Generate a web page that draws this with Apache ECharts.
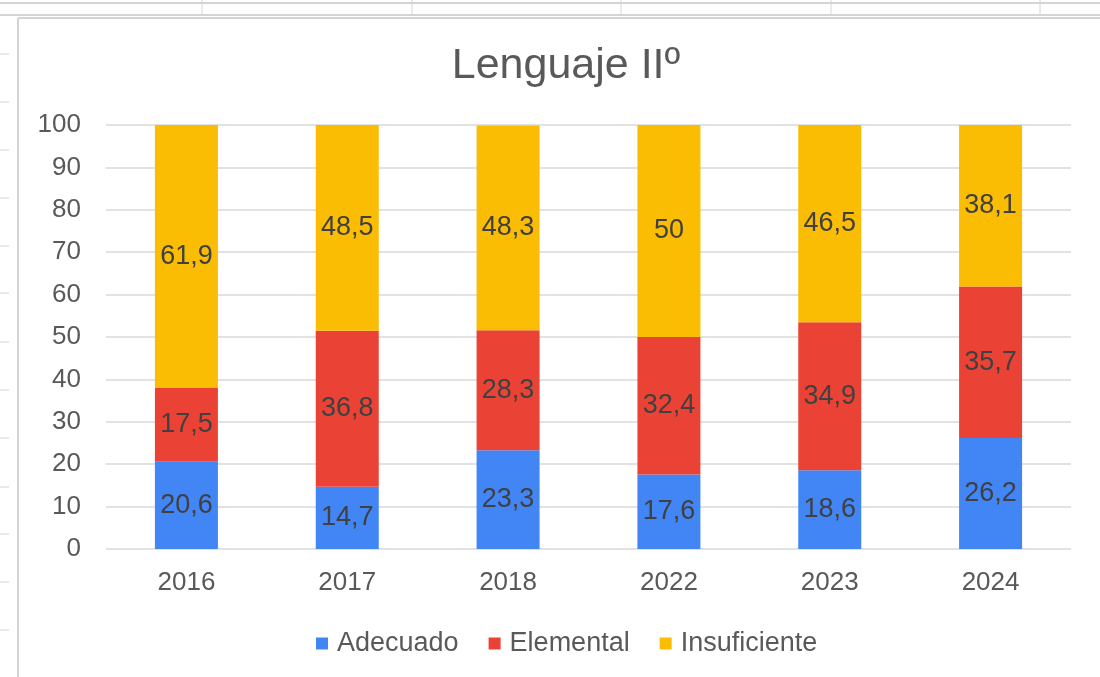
<!DOCTYPE html>
<html>
<head>
<meta charset="utf-8">
<script src="https://cdn.jsdelivr.net/npm/echarts@6/dist/echarts.min.js"></script>
<style>
  html, body { margin: 0; padding: 0; background: #fff; }
  #main { width: 1100px; height: 677px; }
</style>
</head>
<body>
<div id="main"></div>
<script>
var years = ['2016', '2017', '2018', '2022', '2023', '2024'];
var adecuado = [20.6, 14.7, 23.3, 17.6, 18.6, 26.2];
var elemental = [17.5, 36.8, 28.3, 32.4, 34.9, 35.7];
var insuficiente = [61.9, 48.5, 48.3, 50, 46.5, 38.1];

var chart = echarts.init(document.getElementById('main'));

// spreadsheet cell borders around the embedded chart
var deco = [];
function line(x1, y1, x2, y2, w) {
  deco.push({
    type: 'line',
    shape: { x1: x1, y1: y1, x2: x2, y2: y2 },
    style: { stroke: '#d4d4d4', lineWidth: w || 1 },
    silent: true
  });
}
line(0, 3, 1100, 3, 2);
line(0, 15, 1100, 15, 2);
[202, 412, 621, 831, 1040].forEach(function (x) { line(x, 0, x, 15, 1); });
line(18, 18, 1100, 18, 2);
line(18, 18, 18, 677, 2);
[54, 102, 150, 198, 246, 293, 342, 390, 438, 487, 534, 582, 630].forEach(function (y) {
  line(0, y, 9, y, 1);
});

var font = 'Liberation Sans, Arial, sans-serif';

var labelStyle = {
  show: true,
  position: 'inside',
  color: '#404040',
  fontSize: 27,
  fontFamily: font,
  formatter: function (p) { return String(p.value).replace('.', ','); }
};

var option = {
  backgroundColor: '#ffffff',
  animation: false,
  title: {
    text: 'Lenguaje IIº',
    left: 561,
    top: 40,
    textAlign: 'center',
    textStyle: {
      color: '#595959',
      fontSize: 43,
      fontWeight: 'normal',
      fontFamily: font
    }
  },
  legend: {
    data: ['Adecuado', 'Elemental', 'Insuficiente'],
    left: 311,
    top: 625,
    itemWidth: 12,
    itemHeight: 12,
    itemGap: 30,
    icon: 'rect',
    textStyle: {
      color: '#595959',
      fontSize: 27,
      fontFamily: font,
      padding: [0, 0, 0, 4]
    }
  },
  grid: { left: 106, right: 29, top: 125, bottom: 128 },
  xAxis: {
    type: 'category',
    data: years,
    axisLine: { show: false },
    axisTick: { show: false },
    axisLabel: {
      color: '#595959',
      fontSize: 26,
      margin: 21,
      fontFamily: font
    }
  },
  yAxis: {
    type: 'value',
    min: 0,
    max: 100,
    interval: 10,
    axisLine: { show: false },
    axisTick: { show: false },
    axisLabel: {
      color: '#595959',
      fontSize: 26,
      margin: 25,
      fontFamily: font
    },
    splitLine: { lineStyle: { color: '#d9d9d9', width: 1.5 } }
  },
  series: [
    { name: 'Adecuado', type: 'bar', stack: 'total', data: adecuado, barWidth: 63,
      itemStyle: { color: '#4285F4' }, label: labelStyle },
    { name: 'Elemental', type: 'bar', stack: 'total', data: elemental, barWidth: 63,
      itemStyle: { color: '#EA4335' }, label: labelStyle },
    { name: 'Insuficiente', type: 'bar', stack: 'total', data: insuficiente, barWidth: 63,
      itemStyle: { color: '#FBBC04' }, label: labelStyle }
  ],
  graphic: deco
};

chart.setOption(option);
</script>
</body>
</html>
